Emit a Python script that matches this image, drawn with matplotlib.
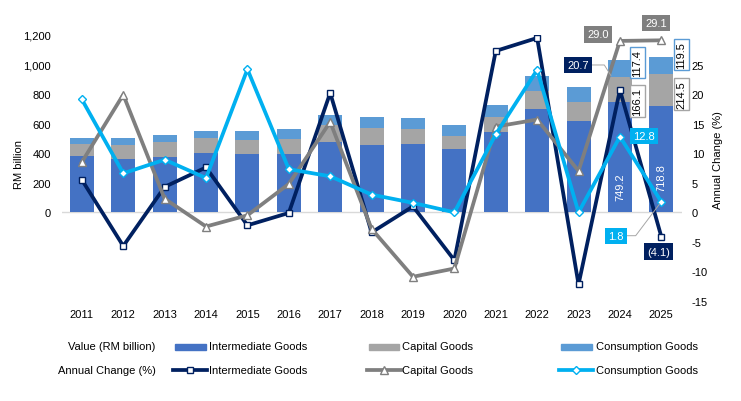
import matplotlib
matplotlib.use("Agg")
import matplotlib.pyplot as plt
from matplotlib.patches import Rectangle
from matplotlib.lines import Line2D

plt.rcParams['font.family'] = ['Liberation Sans', 'DejaVu Sans']
plt.rcParams['font.size'] = 8

years = ["2011", "2012", "2013", "2014", "2015", "2016", "2017", "2018",
         "2019", "2020", "2021", "2022", "2023", "2024", "2025"]
# Value (RM billion), stacked
intermediate_val = [382, 362, 375, 402, 395, 395, 477, 456, 463, 429, 545, 701, 619, 749.2, 718.8]
capital_val = [81, 97, 102, 102, 95, 102, 115, 116, 102, 88, 101, 122, 129, 166.1, 214.5]
consumption_val = [41, 45, 47, 47, 61, 68, 68, 74, 75, 75, 82, 102, 102, 117.4, 119.5]
# Annual change (%)
intermediate_chg = [5.5, -5.7, 4.3, 7.6, -2.2, -0.1, 20.2, -3.4, 1.0, -8.1, 27.3, 29.5, -12.2, 20.7, -4.1]
capital_chg = [8.5, 19.9, 2.3, -2.4, -0.5, 4.8, 15.3, -2.8, -10.9, -9.5, 14.5, 15.7, 7.0, 29.0, 29.1]
consumption_chg = [19.1, 6.6, 8.9, 5.8, 24.2, 7.3, 6.1, 3.0, 1.6, 0.0, 13.2, 24.1, 0.0, 12.8, 1.8]

left_ticks = [0, 200, 400, 600, 800, 1000, 1200]
right_ticks = [-15, -10, -5, 0, 5, 10, 15, 20, 25]

C_INT_BAR, C_CAP_BAR, C_CON_BAR = '#4472C4', '#A5A5A5', '#5B9BD5'
C_INT_LN, C_CAP_LN, C_CON_LN = '#002060', '#7F7F7F', '#00B0F0'

W, H = 741, 402
fig = plt.figure(figsize=(W / 100, H / 100), dpi=100)
ax = fig.add_axes([62 / W, 1 - 302 / H, 620 / W, 266 / H])
ax2 = ax.twinx()

x = list(range(len(years)))
bw = 0.58
b1 = [a for a in intermediate_val]
b2 = [a + b for a, b in zip(intermediate_val, capital_val)]
ax.bar(x, intermediate_val, bw, color=C_INT_BAR, zorder=2)
ax.bar(x, capital_val, bw, bottom=b1, color=C_CAP_BAR, zorder=2)
ax.bar(x, consumption_val, bw, bottom=b2, color=C_CON_BAR, zorder=2)
ax.axhline(0, color='#D9D9D9', lw=1, zorder=1)

ax.set_xlim(-0.48, 14.5)
ax.set_ylim(-600, 1200)
ax.set_yticks(left_ticks)
ax.set_yticklabels([f"{t:,}" for t in left_ticks])
ax.set_xticks(x)
ax.set_xticklabels(years)
ax.tick_params(axis='y', length=0, pad=8)
ax.tick_params(axis='x', length=0, pad=6)
ax.set_ylabel("RM billion")
ax.yaxis.set_label_coords((23.5 - 62) / 620, (302 - 165) / 266)

ax2.set_ylim(-15, 30)
ax2.set_yticks(right_ticks)
ax2.set_yticklabels([str(t) for t in right_ticks])
ax2.tick_params(axis='y', length=0, pad=7)
ax2.set_ylabel("Annual Change (%)")
ax2.yaxis.set_label_coords((713 - 62) / 620, (302 - 160) / 266)
for a in (ax, ax2):
    for s in a.spines.values():
        s.set_visible(False)

lw = 2.7
ax2.plot(x, intermediate_chg, color=C_INT_LN, lw=lw, marker='s', ms=4.5,
         mfc='white', mec=C_INT_LN, mew=1, zorder=3)
ax2.plot(x, capital_chg, color=C_CAP_LN, lw=lw, marker='^', ms=6,
         mfc='white', mec=C_CAP_LN, mew=1, zorder=4)
ax2.plot(x, consumption_chg, color=C_CON_LN, lw=lw, marker='D', ms=4.5,
         mfc='white', mec=C_CON_LN, mew=1, zorder=5)


def fmt(v):
    return f"({abs(v):.1f})" if v < 0 else f"{v:.1f}"


def filled(axis, i, v, color, dx, dy, leader=None):
    kw = {}
    if leader is not None:
        kw['arrowprops'] = dict(arrowstyle='-', color='#A6A6A6', lw=0.7,
                                shrinkA=0, shrinkB=leader[1],
                                connectionstyle=leader[0], relpos=(1, 0.5))
    axis.annotate(fmt(v), xy=(i, v), xytext=(dx, dy), textcoords='offset pixels',
                  ha='center', va='center', color='white', fontsize=8,
                  bbox=dict(boxstyle='square,pad=0.28', fc=color, ec='none'),
                  zorder=10, **kw)


n = len(years) - 1
filled(ax2, n - 1, capital_chg[n - 1], C_CAP_LN, -22, 6.5)
filled(ax2, n, capital_chg[n], C_CAP_LN, -5, 17.5)
filled(ax2, n - 1, intermediate_chg[n - 1], C_INT_LN, -42, 25,
       leader=("angle,angleA=0,angleB=122,rad=0", 12))
filled(ax2, n - 1, consumption_chg[n - 1], C_CON_LN, 24.5, 1)
filled(ax2, n, consumption_chg[n], C_CON_LN, -45, -34,
       leader=("angle,angleA=0,angleB=53,rad=0", 2))
filled(ax2, n, intermediate_chg[n], C_INT_LN, -3, -15)

# value labels inside intermediate bars
ax.annotate(f"{intermediate_val[n - 1]:.1f}", xy=(n - 1, 0), xytext=(0, 26),
            textcoords='offset pixels', rotation=90, ha='center', va='center',
            color='white', fontsize=8, zorder=10)
ax.annotate(f"{intermediate_val[n]:.1f}", xy=(n, 0), xytext=(0, 35),
            textcoords='offset pixels', rotation=90, ha='center', va='center',
            color='white', fontsize=8, zorder=10)


def boxed(i, ymid, v, ec, dx, dy):
    ax.annotate(f"{v:.1f}", xy=(i, ymid), xytext=(dx, dy), textcoords='offset pixels',
                rotation=90, ha='center', va='center', color='black', fontsize=8,
                bbox=dict(boxstyle='square,pad=0.2', fc='white', ec=ec, lw=1),
                zorder=10)


boxed(n - 1, b2[n - 1] - capital_val[n - 1] / 2, capital_val[n - 1], C_CAP_BAR, 17.5, -11.4)
boxed(n - 1, b2[n - 1] + consumption_val[n - 1] / 2, consumption_val[n - 1], C_CON_BAR, 17.5, 6)
boxed(n, b2[n] - capital_val[n] / 2, capital_val[n], C_CAP_BAR, 20, -4)
boxed(n, b2[n] + consumption_val[n] / 2, consumption_val[n], C_CON_BAR, 20, 11)

# custom legend
def fx(px):
    return px / W


def fy(py):
    return 1 - py / H


ROW1, ROW2 = 347.5, 371
fig.text(fx(155.7), fy(ROW1), "Value (RM billion)", ha='right', va='center')
fig.text(fx(155.7), fy(ROW2), "Annual Change (%)", ha='right', va='center')
names = ["Intermediate Goods", "Capital Goods", "Consumption Goods"]
patch_x = [175, 368.5, 561]
text_x = [209, 402.3, 595.7]
line_x = [(173, 207.3), (366.7, 400.7), (559, 593.3)]
bar_cols = [C_INT_BAR, C_CAP_BAR, C_CON_BAR]
ln_cols = [C_INT_LN, C_CAP_LN, C_CON_LN]
markers = [('s', 4.5), ('^', 6), ('D', 4.5)]
for k in range(3):
    fig.patches.append(Rectangle((fx(patch_x[k]), fy(350.5)), 31 / W, 5.5 / H,
                                 color=bar_cols[k], transform=fig.transFigure))
    fig.text(fx(text_x[k]), fy(ROW1), names[k], ha='left', va='center')
    x0, x1 = line_x[k]
    fig.lines.append(Line2D([fx(x0), fx(x1)], [fy(ROW2), fy(ROW2)], lw=lw,
                            color=ln_cols[k], transform=fig.transFigure))
    fig.lines.append(Line2D([fx((x0 + x1) / 2)], [fy(ROW2)], marker=markers[k][0],
                            ms=markers[k][1], mfc='white', mec=ln_cols[k], mew=1,
                            transform=fig.transFigure))
    fig.text(fx(text_x[k]), fy(ROW2), names[k], ha='left', va='center')

fig.savefig("out.png", dpi=100)
